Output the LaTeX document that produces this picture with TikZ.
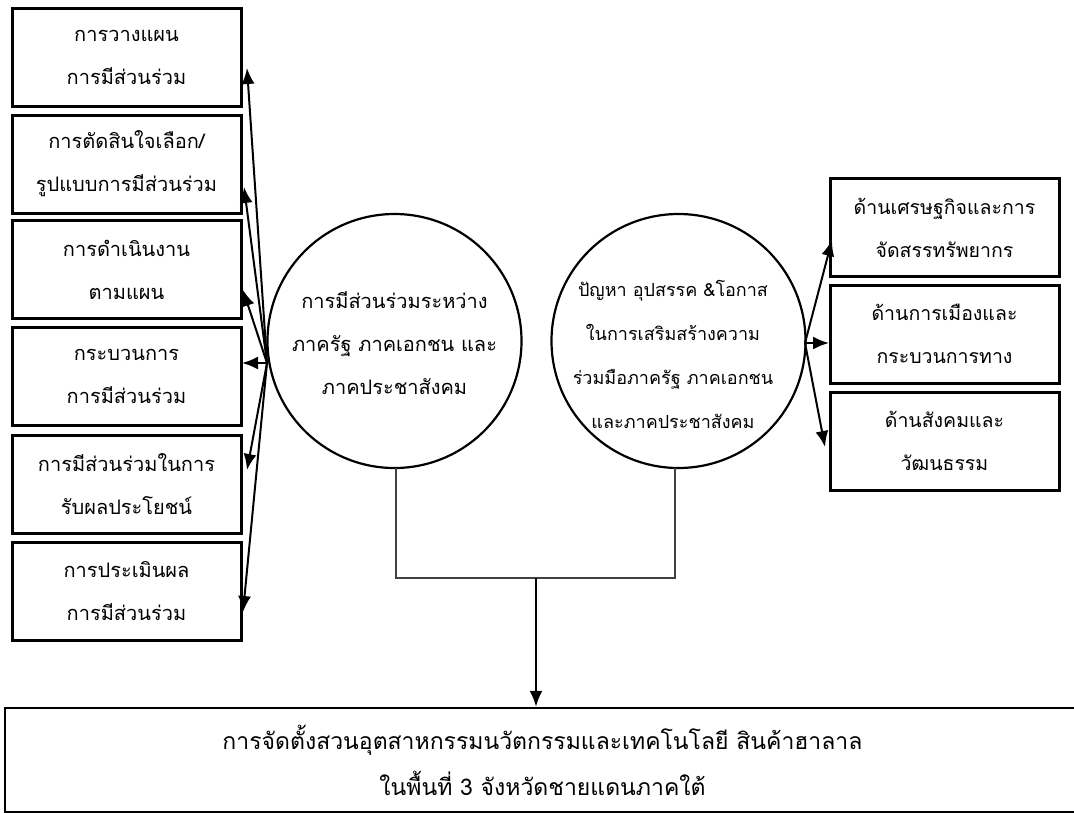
\documentclass[tikz,border=0pt]{standalone}
\usepackage{fontspec}
\newfontfamily\thai[Script=Thai]{Loma}
\usetikzlibrary{arrows.meta,calc}
\tikzset{
  txt/.style={font=\thai\fontsize{20}{43}\selectfont, align=center, text=black},
  sbox/.style={txt, draw=black, line width=3pt, minimum width=229pt, minimum height=98pt, inner sep=0pt},
  circ/.style={draw=black, line width=2.2pt, circle, minimum size=254pt, inner sep=0pt},
  arr/.style={line width=2pt, -{Latex[length=16pt,width=13pt]}},
  brk/.style={line width=1.1pt, draw=black!75}
}
\begin{document}
\begin{tikzpicture}[x=1pt,y=-1pt]
\useasboundingbox (0,0) rectangle (1074,812);
% left boxes
\node[sbox] (l1) at (126.5,57.5) {การวางแผน\\การมีส่วนร่วม};
\node[sbox] (l2) at (126.5,164) {การตัดสินใจเลือก/\\รูปแบบการมีส่วนร่วม};
\node[sbox] (l3) at (126.5,269.5) {การดำเนินงาน\\ตามแผน};
\node[sbox] (l4) at (126.5,376.5) {กระบวนการ\\การมีส่วนร่วม};
\node[sbox] (l5) at (126.5,484) {การมีส่วนร่วมในการ\\รับผลประโยชน์};
\node[sbox] (l6) at (126.5,591.5) {การประเมินผล\\การมีส่วนร่วม};
% right boxes
\node[sbox, font=\thai\fontsize{19.5}{43}\selectfont] (r1) at (944.5,227.5) {ด้านเศรษฐกิจและการ\\จัดสรรทรัพยากร};
\node[sbox, font=\thai\fontsize{19.5}{43}\selectfont] (r2) at (944.5,334) {ด้านการเมืองและ\\กระบวนการทาง};
\node[sbox, font=\thai\fontsize{19.5}{43}\selectfont] (r3) at (944.5,441) {ด้านสังคมและ\\วัฒนธรรม};
% circles
\node[circ] (c1) at (394.5,341) {};
\node[txt] (c1t) at (394.5,343) {การมีส่วนร่วมระหว่าง\\ภาครัฐ ภาคเอกชน และ\\ภาคประชาสังคม};
\node[circ] (c2) at (678.5,341) {};
\node[txt, font=\thai\fontsize{18}{44}\selectfont] (c2t) at (673,354) {ปัญหา อุปสรรค \&โอกาส\\ในการเสริมสร้างความ\\ร่วมมือภาครัฐ ภาคเอกชน\\และภาคประชาสังคม};
% bottom box
\node[txt, font=\thai\fontsize{23}{46}\selectfont, draw=black, line width=2.4pt, minimum width=1075pt, minimum height=104pt, inner sep=0pt] (b) at (542.5,760) {การจัดตั้งสวนอุตสาหกรรมนวัตกรรมและเทคโนโลยี สินค้าฮาลาล\\ในพื้นที่ 3 จังหวัดชายแดนภาคใต้};
% left arrows
\coordinate (lo) at (267,363);
\coordinate (t1) at (247,68);
\coordinate (t2) at (244,187);
\coordinate (t3) at (243,290);
\coordinate (t4) at (242,363);
\coordinate (t5) at (247,470);
\coordinate (t6) at (243,612);
\foreach \t in {t1,t2,t3,t4,t5,t6} \draw[arr] (lo) -- (\t);
% right arrows
\coordinate (ro) at (805,343);
\coordinate (u1) at (832,240);
\coordinate (u2) at (829,343);
\coordinate (u3) at (825,447);
\foreach \t in {u1,u2,u3} \draw[arr] (ro) -- (\t);
% bracket
\coordinate (k1) at (396,468);
\coordinate (k2) at (675,468);
\coordinate (km) at (536,578);
\draw[brk] (k1) |- (km) -| (k2);
\draw[arr] (km) -- (b.north -| km);
\end{tikzpicture}
\end{document}
